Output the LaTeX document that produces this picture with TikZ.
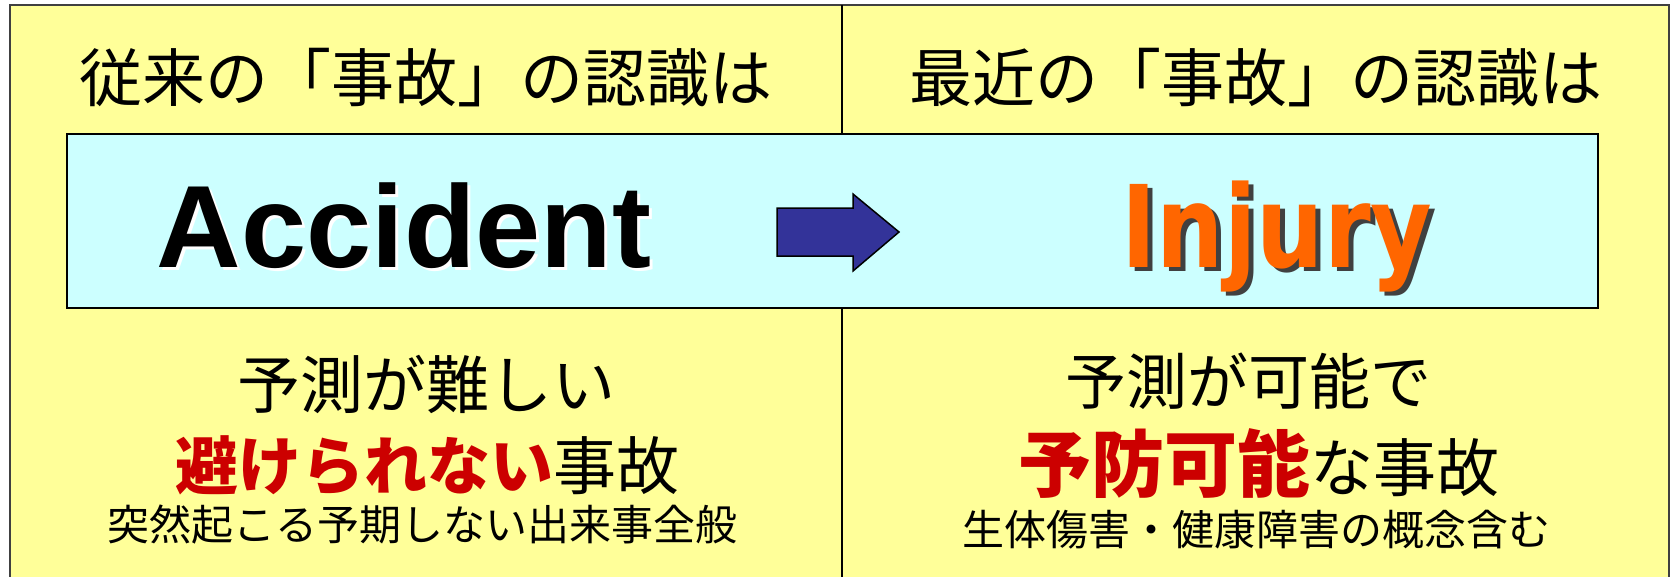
\documentclass[tikz,border=0pt]{standalone}
\usepackage{fontspec}
\setmainfont{Liberation Sans}
\newfontfamily\jp{Noto Sans CJK JP}
\newfontfamily\accfont{Liberation Sans}
\newfontfamily\injfont{DejaVu Sans}
\definecolor{paneyellow}{HTML}{FFFF99}
\definecolor{panecyan}{HTML}{CCFFFF}
\definecolor{arrowblue}{HTML}{333399}
\definecolor{alertred}{HTML}{CC0000}
\definecolor{injorange}{HTML}{FF6600}
\definecolor{injshadow}{HTML}{404040}
\newcommand{\accword}{\accfont\bfseries\fontsize{117}{120}\selectfont Accident}
\newcommand{\injword}{\scalebox{0.83}[1]{\injfont\bfseries\fontsize{114}{120}\selectfont Injury}}
\begin{document}
\begin{tikzpicture}[x=1pt,y=-1pt,
  head/.style={inner sep=0pt, font=\jp\fontsize{63}{70}\selectfont},
  midline/.style={inner sep=0pt, font=\jp\fontsize{63}{70}\selectfont},
  smallline/.style={inner sep=0pt, font=\jp\fontsize{42}{48}\selectfont},
  bigword/.style={inner sep=0pt, anchor=base},
]
\useasboundingbox (0,0) rectangle (1673,576);
\fill[white] (0,0) rectangle (1673,576);
% outer panel
\draw[line width=1.5pt, draw=black!75, fill=paneyellow] (10,5) rectangle (1669,600);
% divider
\draw[line width=2pt] (842,5) -- (842,134);
\draw[line width=2pt] (842,308) -- (842,600);
% cyan band
\draw[line width=2.5pt, fill=panecyan] (67,134) rectangle (1598,308);
% headings
\node[head] (hl) at (426,78) {従来の「事故」の認識は};
\node[head] (hr) at (1256,78) {最近の「事故」の認識は};
% big words (with shadows)
\node[bigword] (acc) at (404,267) {\makebox[0pt][l]{\hspace{3pt}\raisebox{-3pt}{\color{white}\accword}}\accword};
\node[bigword] (inj) at (1277,267) {\makebox[0pt][l]{\hspace{5pt}\raisebox{-4pt}{\color{injshadow}\injword}}{\color{injorange}\injword}};
% block arrow
\draw[line width=1.5pt, fill=arrowblue, line join=miter]
  (777,208) -- (853,208) -- (853,194) -- (899,232) -- (853,271) -- (853,256) -- (777,256) -- cycle;
% left column
\node[midline] (l1) at (426,384) {予測が難しい};
\node[midline] (l2) at (427,466) {{\bfseries\color{alertred}避けられない}事故};
\node[smallline] (l3) at (422,525) {突然起こる予期しない出来事全般};
% right column
\node[midline, font=\jp\fontsize{61}{68}\selectfont] (r1) at (1248,381) {予測が可能で};
\node[midline] (r2) at (1259,464) {{\bfseries\fontsize{73}{80}\selectfont\color{alertred}予防可能}な事故};
\node[smallline] (r3) at (1256,530) {生体傷害・健康障害の概念含む};
\end{tikzpicture}
\end{document}
